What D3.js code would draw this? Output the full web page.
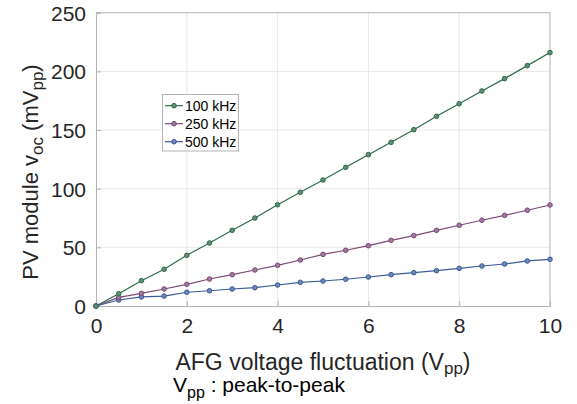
<!DOCTYPE html>
<html>
<head>
<meta charset="utf-8">
<script src="https://cdn.jsdelivr.net/npm/d3@7"></script>
<style>
  html, body { margin: 0; padding: 0; background: #fff; }
  svg { display: block; font-family: "Liberation Sans", Arial, Helvetica, sans-serif; }
</style>
</head>
<body>
<svg id="chart" width="577" height="404"></svg>
<script>
const xValues = [0, 0.5, 1, 1.5, 2, 2.5, 3, 3.5, 4, 4.5, 5, 5.5, 6, 6.5, 7, 7.5, 8, 8.5, 9, 9.5, 10];
const series100k = [0, 10.5, 21.6, 31.3, 43.2, 53.7, 64.5, 75.0, 86.3, 96.9, 107.4, 118.2, 129.0, 139.5, 150.3, 161.7, 172.4, 183.3, 193.8, 204.9, 216.0];
const series250k = [0, 7.4, 10.8, 14.5, 18.5, 23.0, 26.7, 30.7, 34.7, 39.2, 44.0, 47.5, 51.4, 56.0, 60.0, 64.5, 68.8, 73.1, 77.3, 81.6, 86.1];
const series500k = [0, 5.1, 7.7, 8.5, 11.7, 13.0, 14.5, 15.6, 17.9, 20.2, 21.3, 22.8, 24.7, 26.7, 28.4, 30.1, 32.1, 34.1, 35.8, 38.4, 39.8];
const seriesNames = ["100 kHz", "250 kHz", "500 kHz"];
const seriesColors = ["#2e6a4a", "#7a4a76", "#3a5996"];
const markerFills = ["#5f8f72", "#a07a9c", "#6f86b8"];
const xTicks = [0, 2, 4, 6, 8, 10];
const yTicks = [0, 50, 100, 150, 200, 250];

const svg = d3.select("#chart");
const plot = { left: 96, right: 550, top: 12.7, bottom: 306 };
const x = d3.scaleLinear().domain([0, 10]).range([plot.left, plot.right]);
const y = d3.scaleLinear().domain([0, 250]).range([plot.bottom, plot.top]);

// grid
const grid = svg.append("g");
grid.selectAll("line.gx").data(xTicks.slice(1, -1)).join("line")
  .attr("x1", d => x(d)).attr("x2", d => x(d))
  .attr("y1", plot.top).attr("y2", plot.bottom)
  .attr("stroke", "#e8e8e8").attr("stroke-width", 1);
grid.selectAll("line.gy").data(yTicks.slice(1, -1)).join("line")
  .attr("x1", plot.left).attr("x2", plot.right)
  .attr("y1", d => y(d)).attr("y2", d => y(d))
  .attr("stroke", "#e8e8e8").attr("stroke-width", 1);

// axes
const xAxis = d3.axisBottom(x).tickValues(xTicks).tickSize(-5).tickPadding(12).tickFormat(d3.format("d"));
const yAxis = d3.axisLeft(y).tickValues(yTicks).tickSize(-5).tickPadding(10).tickFormat(d3.format("d"));
const gx = svg.append("g").attr("transform", `translate(0,${plot.bottom})`).call(xAxis);
const gy = svg.append("g").attr("transform", `translate(${plot.left},0)`).call(yAxis);
[gx, gy].forEach(g => {
  g.select(".domain").attr("stroke", "#b3b3b3");
  g.selectAll(".tick line").attr("stroke", "#b3b3b3");
  g.selectAll(".tick text").attr("fill", "#262626").attr("font-size", 21)
    .attr("font-family", "Liberation Sans, Arial, sans-serif");
});
gy.selectAll(".tick text").attr("dy", "0.36em");
// top and right box lines
svg.append("line").attr("x1", plot.left).attr("x2", plot.right).attr("y1", plot.top).attr("y2", plot.top).attr("stroke", "#b3b3b3");
svg.append("line").attr("x1", plot.right).attr("x2", plot.right).attr("y1", plot.top).attr("y2", plot.bottom).attr("stroke", "#b3b3b3");

// series
const allSeries = [series100k, series250k, series500k];
const line = d3.line().x((d, i) => x(xValues[i])).y(d => y(d));
allSeries.forEach((vals, si) => {
  svg.append("path").datum(vals).attr("d", line)
    .attr("fill", "none").attr("stroke", seriesColors[si]).attr("stroke-width", 1.2);
});
allSeries.slice().reverse().forEach((vals, ri) => {
  const si = allSeries.length - 1 - ri;
  svg.append("g").selectAll("circle").data(vals).join("circle")
    .attr("cx", (d, i) => x(xValues[i])).attr("cy", d => y(d)).attr("r", 2.3)
    .attr("fill", markerFills[si]).attr("stroke", seriesColors[si]).attr("stroke-width", 1);
});

// legend
const lg = svg.append("g");
lg.append("rect").attr("x", 162.5).attr("y", 94.5).attr("width", 76).attr("height", 56.5)
  .attr("fill", "#fff").attr("stroke", "#b3b3b3").attr("stroke-width", 1);
seriesNames.forEach((name, i) => {
  const cy = 105.7 + i * 18;
  lg.append("line").attr("x1", 165).attr("x2", 183).attr("y1", cy).attr("y2", cy)
    .attr("stroke", seriesColors[i]).attr("stroke-width", 1.2);
  lg.append("circle").attr("cx", 174).attr("cy", cy).attr("r", 2.3)
    .attr("fill", markerFills[i]).attr("stroke", seriesColors[i]);
  lg.append("text").attr("x", 185).attr("y", cy).attr("dy", "0.36em")
    .attr("font-size", 14).attr("fill", "#000").text(name);
});

// x axis label
const xl = svg.append("text").attr("x", (plot.left + plot.right) / 2).attr("y", 370)
  .attr("text-anchor", "middle").attr("font-size", 23).attr("fill", "#262626");
xl.append("tspan").text("AFG voltage fluctuation (V");
xl.append("tspan").attr("font-size", 17).attr("dy", 4).text("pp");
xl.append("tspan").attr("dy", -4).text(")");

// note line
const nt = svg.append("text").attr("x", 173).attr("y", 392).attr("font-size", 21).attr("fill", "#000");
nt.append("tspan").text("V");
nt.append("tspan").attr("font-size", 16).attr("dy", 6).text("pp");
nt.append("tspan").attr("dy", -6).text(" : peak-to-peak");

// y axis label
const yl = svg.append("text")
  .attr("transform", `translate(38,172) rotate(-90)`)
  .attr("text-anchor", "middle").attr("font-size", 22).attr("fill", "#262626");
yl.append("tspan").text("PV module v");
yl.append("tspan").attr("font-size", 17).attr("dy", 5).text("oc");
yl.append("tspan").attr("dy", -5).text(" (mV");
yl.append("tspan").attr("font-size", 17).attr("dy", 5).text("pp");
yl.append("tspan").attr("dy", -5).text(")");
</script>
</body>
</html>
